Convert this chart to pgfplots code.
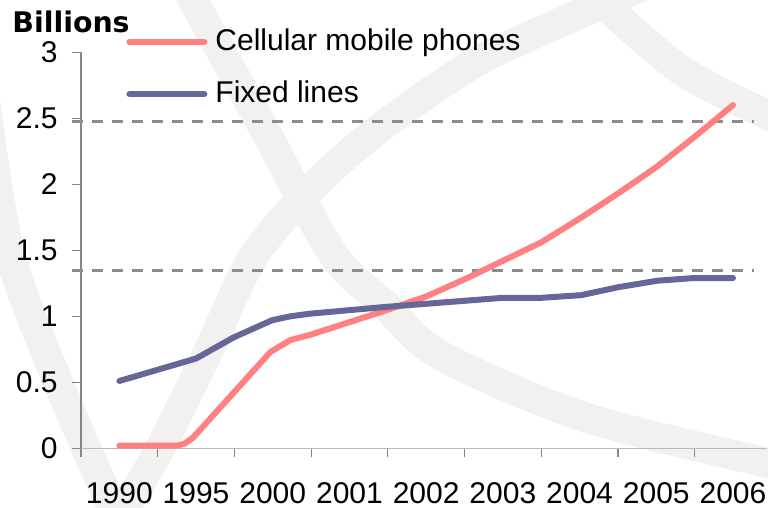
\documentclass[border=0pt]{standalone}
\usepackage{fontspec}
\setmainfont{Liberation Sans}
\newfontfamily\widefont{DejaVu Sans}
\usepackage{pgfplots}
\pgfplotsset{compat=1.18}
\definecolor{mobile}{RGB}{255,128,128}
\definecolor{fixedl}{RGB}{102,102,153}
\definecolor{refline}{RGB}{140,140,140}
\definecolor{wmark}{RGB}{242,241,240}
\definecolor{yaxisgray}{RGB}{134,134,134}
\definecolor{xaxisgray}{RGB}{185,185,185}
\newcommand\lblfont{\fontsize{15}{18}\selectfont}

\begin{document}
\begin{tikzpicture}
% faint watermark behind the chart (image px, y down)
\begin{scope}
\clip (0,0) rectangle (384pt,254pt);
\begin{scope}[x=0.5pt, y=-0.5pt, yshift=254pt, line width=15pt, draw=wmark]
\draw plot[smooth] coordinates {(-15,100) (10,254) (60,387) (118,520)};
\draw plot[smooth] coordinates {(118,520) (157,454) (207,354) (255,254) (320,180) (384,125) (480,60) (600,5) (700,-40)};
\draw plot[smooth] coordinates {(570,-30) (610,10) (684,72) (768,115) (800,125)};
\draw plot[smooth] coordinates {(175,-40) (193,0) (263,127) (333,254) (384,304) (440,355) (584,417) (768,463) (800,470)};
\end{scope}
\end{scope}

\begin{axis}[
  at={(40.5pt,29.85pt)}, anchor=south west,
  width=343.25pt, height=198pt, scale only axis,
  xmin=-0.5, xmax=8.45, ymin=0, ymax=3,
  clip=false,
  axis lines*=left,
  x axis line style={draw=xaxisgray, line width=0.7pt},
  y axis line style={draw=yaxisgray, line width=0.7pt},
  tick align=outside,
  major tick length=4.5pt,
  tick style={draw=yaxisgray, line width=0.6pt},
  xtick={-0.5,0.5,1.5,2.5,3.5,4.5,5.5,6.5,7.5},
  xticklabels={,,,,,,,,},
  extra x ticks={0,1,2,3,4,5,6,7,8},
  extra x tick labels={\mbox{1990},\mbox{1995},\mbox{2000},\mbox{2001},\mbox{2002},\mbox{2003},\mbox{2004},\mbox{2005},\mbox{2006}},
  extra x tick style={major tick length=0pt, grid=none},
  xticklabel style={font=\lblfont, anchor=north, inner sep=0pt, yshift=-16.85pt},
  ytick={0,0.5,...,3},
  yticklabel style={font=\lblfont, anchor=east, inner sep=0pt, xshift=-7pt},
  /pgf/number format/assume math mode=true,
  legend cell align=left,
  legend style={at={(axis description cs:0.0656,1.062)}, anchor=north west,
    draw=none, fill=none, inner sep=0pt, font=\lblfont,
    nodes={inner sep=0pt, text height=11pt, text depth=3pt},
    column sep=4pt, row sep=12pt},
  legend image code/.code={\draw[#1] (1.5pt,0pt) -- (39pt,0pt);},
]
\addplot[refline, line width=1.6pt, dash pattern=on 5.5pt off 4.5pt, forget plot]
  coordinates {(-0.613,2.475) (8.27,2.475)};
\addplot[refline, line width=1.6pt, dash pattern=on 5.5pt off 4.5pt, forget plot]
  coordinates {(-0.613,1.345) (8.27,1.345)};

% Cellular mobile phones (billions)
\addplot[mobile, line width=3pt, line cap=round, line join=round] coordinates {
  (0,0.02) (0.75,0.02) (0.85,0.035) (0.96,0.08) (1.97,0.73) (2.23,0.82)
  (2.49,0.86) (2.97,0.95) (3.45,1.04) (4.0,1.15) (4.5,1.28) (5.0,1.42)
  (5.5,1.56) (6.0,1.74) (6.5,1.93) (7.0,2.13) (7.5,2.36) (8.0,2.60)
};
\addlegendentry{Cellular mobile phones}

% Fixed lines (billions)
\addplot[fixedl, line width=3pt, line cap=round, line join=round] coordinates {
  (0,0.51) (1.0,0.68) (1.49,0.84) (1.99,0.97) (2.23,1.00) (2.49,1.02)
  (3.45,1.07) (5.0,1.14) (5.5,1.14) (6.02,1.16) (6.5,1.22) (7.02,1.27)
  (7.5,1.29) (8.0,1.29)
};
\addlegendentry{Fixed lines}
\end{axis}

\node[anchor=base west, inner sep=0pt, font=\widefont\bfseries\fontsize{14.2}{17}\selectfont]
  at (6pt,237.5pt) {Billions};

\pgfresetboundingbox
\path[use as bounding box] (0,0) rectangle (384pt,254pt);
\end{tikzpicture}
\end{document}
